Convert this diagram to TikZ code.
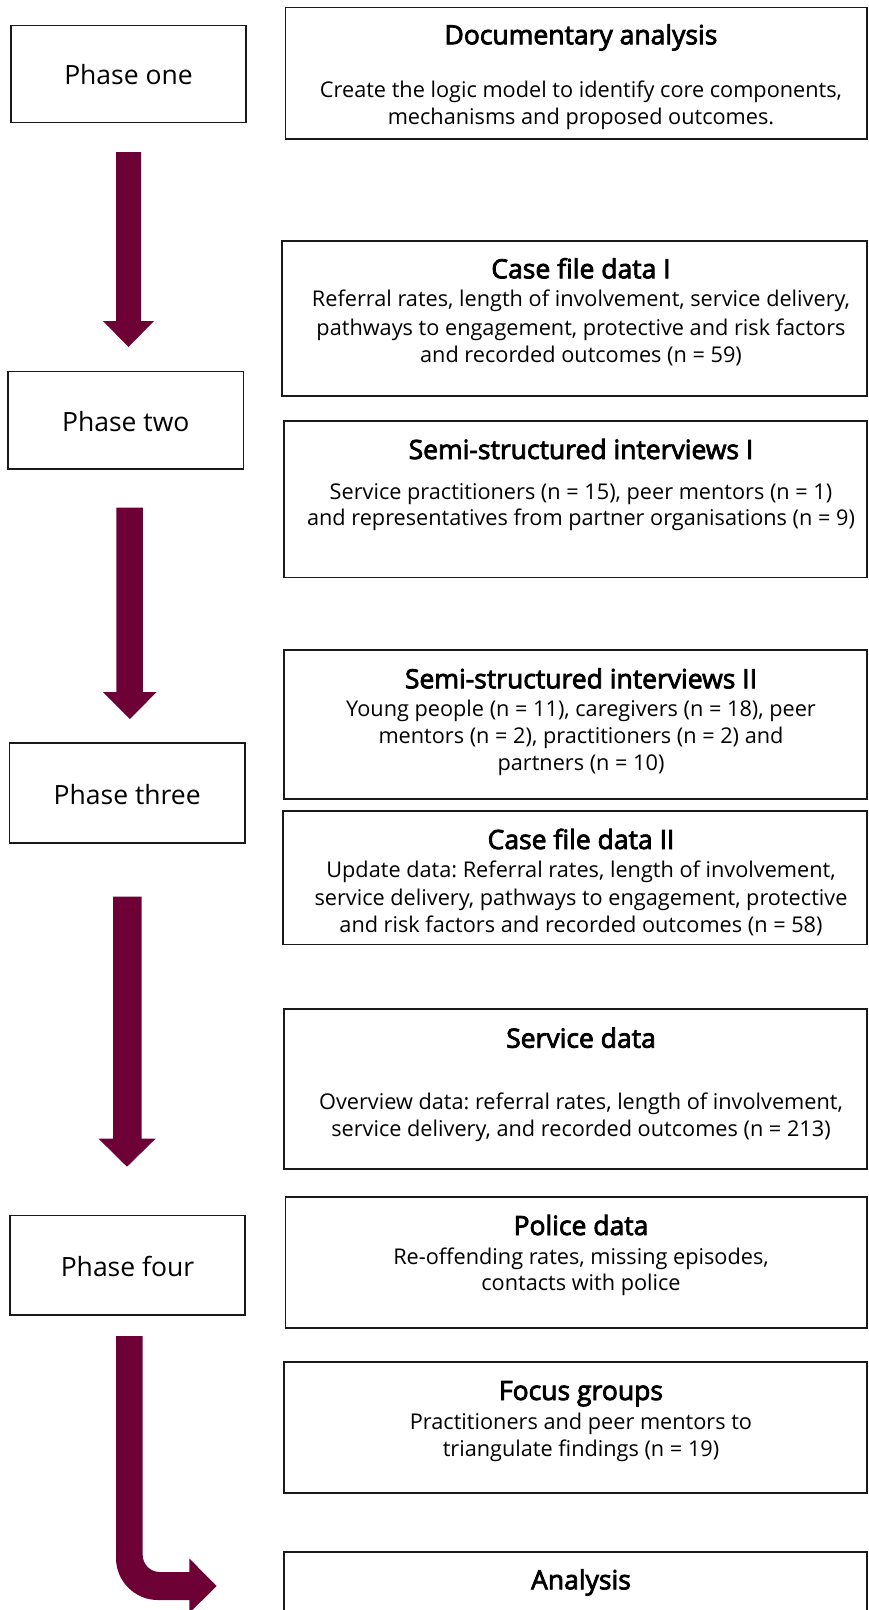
\documentclass[tikz,border=0pt]{standalone}
\usepackage{fontspec}
\setmainfont{Open Sans}
\newfontfamily\headfont{Open Sans}[FakeBold=3]
\frenchspacing
\definecolor{maroon}{RGB}{109,0,53}
\definecolor{edge}{RGB}{25,25,25}
\tikzset{
  stagebox/.style={draw=edge, line width=1.4pt, inner sep=0pt, outer sep=0pt, anchor=north west},
  phasetext/.style={inner sep=0pt, anchor=base, font=\fontsize{26.5}{30}\selectfont},
  headtext/.style={inner sep=0pt, anchor=base, font=\headfont\fontsize{26.5}{30}\selectfont},
  bodytext/.style={inner sep=0pt, anchor=base, font=\fontsize{21.7}{27}\selectfont},
  blockarrow/.style={fill=maroon, draw=none}
}
\begin{document}
\begin{tikzpicture}[x=1pt, y=-1pt]
\useasboundingbox (0,0) rectangle (868,1610);
\clip (0,0) rectangle (868,1610);

% phase boxes
\node[stagebox, minimum width=235pt, minimum height=96.8pt] (p1) at (11,25.7) {};
\node[stagebox, minimum width=235.6pt, minimum height=97.3pt] (p2) at (8,371.7) {};
\node[stagebox, minimum width=235.6pt, minimum height=100pt] (p3) at (9.4,743) {};
\node[stagebox, minimum width=235pt, minimum height=99.3pt] (p4) at (10,1215.7) {};
\node[phasetext] (p1t) at (128.5,84) {Phase one};
\node[phasetext] (p2t) at (125.8,431) {Phase two};
\node[phasetext] (p3t) at (127.2,804.3) {Phase three};
\node[phasetext] (p4t) at (127.5,1276) {Phase four};

% activity boxes
\node[stagebox, minimum width=581.5pt, minimum height=131.5pt] (bA) at (285.5,7.5) {};
\node[stagebox, minimum width=585pt, minimum height=155pt] (bB) at (282,241) {};
\node[stagebox, minimum width=583pt, minimum height=156.5pt] (bC) at (284,421) {};
\node[stagebox, minimum width=583pt, minimum height=149pt] (bD) at (284,650) {};
\node[stagebox, minimum width=584pt, minimum height=133.5pt] (bE) at (283,811) {};
\node[stagebox, minimum width=583pt, minimum height=160pt] (bF) at (284,1009) {};
\node[stagebox, minimum width=581.5pt, minimum height=131pt] (bG) at (285.5,1197) {};
\node[stagebox, minimum width=583pt, minimum height=131pt] (bH) at (284,1362) {};
\node[stagebox, minimum width=583pt, minimum height=80pt] (bI) at (284,1552) {};

% box texts
\node[headtext] (hA) at (581,44.3) {Documentary analysis};
\node[bodytext] (tA1) at (581,97.3) {Create the logic model to identify core components,};
\node[bodytext] (tA2) at (581,124) {mechanisms and proposed outcomes.};

\node[headtext] (hB) at (581,278.3) {Case file data I};
\node[bodytext] (tB1) at (581,306.7) {Referral rates, length of involvement, service delivery,};
\node[bodytext] (tB2) at (581,335) {pathways to engagement, protective and risk factors};
\node[bodytext] (tB3) at (581,362.3) {and recorded outcomes (n = 59)};

\node[headtext] (hC) at (581,459) {Semi-structured interviews I};
\node[bodytext] (tC1) at (581,499) {Service practitioners (n = 15), peer mentors (n = 1)};
\node[bodytext] (tC2) at (581,525.7) {and representatives from partner organisations (n = 9)};

\node[headtext] (hD) at (581,688.3) {Semi-structured interviews II};
\node[bodytext] (tD1) at (581,716) {Young people (n = 11), caregivers (n = 18), peer};
\node[bodytext] (tD2) at (581,743.3) {mentors (n = 2), practitioners (n = 2) and};
\node[bodytext] (tD3) at (581,770.7) {partners (n = 10)};

\node[headtext] (hE) at (581,849) {Case file data II};
\node[bodytext] (tE1) at (581,877.3) {Update data: Referral rates, length of involvement,};
\node[bodytext] (tE2) at (581,905) {service delivery, pathways to engagement, protective};
\node[bodytext] (tE3) at (581,932.3) {and risk factors and recorded outcomes (n = 58)};

\node[headtext] (hF) at (581,1047.7) {Service data};
\node[bodytext] (tF1) at (581,1109.3) {Overview data: referral rates, length of involvement,};
\node[bodytext] (tF2) at (581,1136) {service delivery, and recorded outcomes (n = 213)};

\node[headtext] (hG) at (581,1235) {Police data};
\node[bodytext] (tG1) at (581,1264) {Re-offending rates, missing episodes,};
\node[bodytext] (tG2) at (581,1290.7) {contacts with police};

\node[headtext] (hH) at (581,1400) {Focus groups};
\node[bodytext] (tH1) at (581,1429.3) {Practitioners and peer mentors to};
\node[bodytext] (tH2) at (581,1456) {triangulate findings (n = 19)};

\node[headtext] (hI) at (581,1589.3) {Analysis};

% block arrows between the phases
\fill[blockarrow] (116,152) -- (116,321) -- (103,321) -- (128.5,347) -- (154,321) -- (141,321) -- (141,152) -- cycle;
\fill[blockarrow] (116.3,507.7) -- (116.3,692) -- (103,692) -- (129.8,719) -- (156.7,692) -- (142.9,692) -- (142.9,507.7) -- cycle;
\fill[blockarrow] (113,896.7) -- (113,1138.7) -- (98.6,1138.7) -- (127,1166.7) -- (155.6,1138.7) -- (141.7,1138.7) -- (141.7,896.7) -- cycle;
\fill[blockarrow] (116,1336) [rounded corners=42pt] -- (116,1600) [sharp corners] -- (189.3,1600) -- (189.3,1613) -- (216.7,1586) -- (189.3,1558.5) -- (189.3,1572) [rounded corners=17pt] -- (142.7,1572) [sharp corners] -- (142.7,1336) -- cycle;
\end{tikzpicture}
\end{document}
